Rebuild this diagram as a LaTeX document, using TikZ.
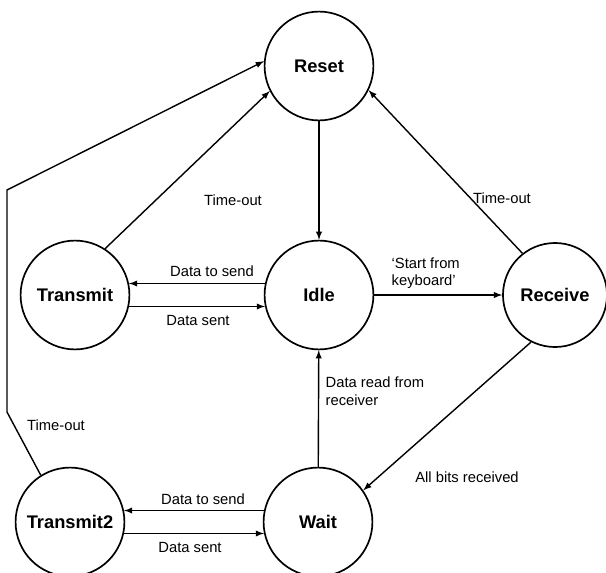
\documentclass[tikz,border=0pt]{standalone}
\usepackage{fontspec}
\setmainfont{Liberation Sans}
\usetikzlibrary{arrows}

\begin{document}
\begin{tikzpicture}[x=0.025cm, y=-0.025cm, >=latex,
		state/.style={draw, circle, line width=1.2pt, minimum size=2.72cm, inner sep=0pt, font=\fontsize{13}{15}\selectfont\bfseries},
		lbl/.style={font=\fontsize{10.5}{12.5}\selectfont, inner sep=1pt},
		trans/.style={->, line width=1pt}]
		\useasboundingbox (0,0) rectangle (606,573);
		% states
		\node [state] (reset) at (319,66) {Reset};
		\node [state] (transmit) at (75,295) {Transmit};
		\node [state] (idle) at (319,295) {Idle};
		\node [state, minimum size=2.6cm] (receive) at (555,295) {Receive};
		\node [state] (transmit2) at (70,522) {Transmit2};
		\node [state] (wait) at (318,522) {Wait};
		% transitions
		\draw [trans] (reset) -- (idle);
		\draw [trans] (transmit.57) -- (reset.207);
		\draw [trans] (receive.128) -- (reset.-26);
		\draw [trans] (idle.168) -- (transmit.12);
		\draw [trans] (transmit.-12) -- (idle.192);
		\draw [trans] (idle) -- (receive);
		\draw [trans] (wait) -- (idle);
		\draw [trans] (receive.243) -- (wait.35);
		\draw [trans] (wait.168) -- (transmit2.12);
		\draw [trans] (transmit2.-12) -- (wait.192);
		\coordinate (bendlow) at (7,412);
		\coordinate (bendtop) at (7,190);
		\draw [trans] (transmit2.122) -- (bendlow) -- (bendtop) -- (reset.175);
		% labels
		\node [lbl] (toutT) at (233,200) {Time-out};
		\node [lbl] (toutR) at (502,198) {Time-out};
		\node [lbl] (sendT) at (212,271) {Data to send};
		\node [lbl] (sentT) at (198,320) {Data sent};
		\node [lbl, anchor=west, align=left] (start) at (390,273) {`Start from\\keyboard'};
		\node [lbl, anchor=west, align=left] (readrcv) at (324,391) {Data read from\\receiver};
		\node [lbl] (allbits) at (467,477) {All bits received};
		\node [lbl] (toutT2) at (56,425) {Time-out};
		\node [lbl] (sendT2) at (203,499) {Data to send};
		\node [lbl] (sentT2) at (190,547) {Data sent};
\end{tikzpicture}
\end{document}
